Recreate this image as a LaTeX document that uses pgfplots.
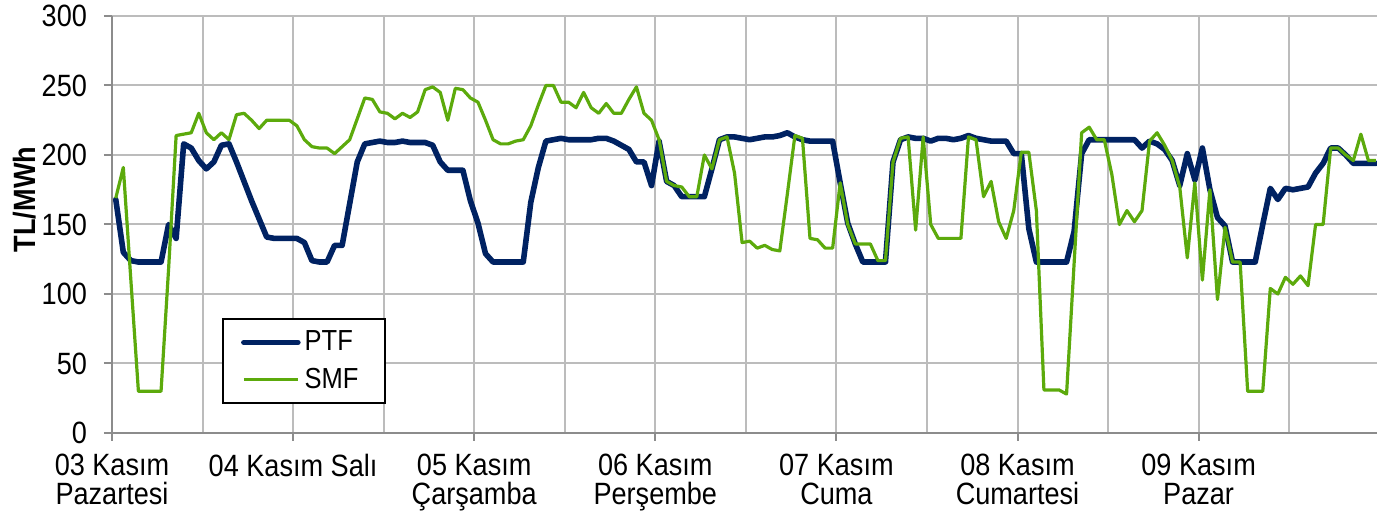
\documentclass[border=0pt]{standalone}
\usepackage{fontspec}
\setmainfont{Liberation Sans}[FakeStretch=0.88]
\usepackage{pgfplots}
\pgfplotsset{compat=1.18}
\usepackage{pgfplotstable}

\definecolor{ptfblue}{RGB}{0,34,98}
\definecolor{smfgreen}{RGB}{92,170,12}
\definecolor{gridgray}{RGB}{188,188,188}
\definecolor{axgray}{RGB}{140,140,140}

% hourly prices, 03-09 Kasim (h = hour index)
\pgfplotstableread{
h ptf smf
0 168 169
1 130 191
2 124 110
3 123 30
4 123 30
5 123 30
6 123 30
7 150 118
8 140 214
9 208 215
10 205 216
11 196 230
12 190 216
13 195 211
14 207 216
15 208 211
16 195 229
17 181 230
18 167 225
19 154 219
20 141 225
21 140 225
22 140 225
23 140 225
24 140 221
25 137 211
26 124 206
27 123 205
28 123 205
29 135 201
30 135 206
31 165 211
32 195 226
33 208 241
34 209 240
35 210 231
36 209 230
37 209 226
38 210 230
39 209 227
40 209 231
41 209 247
42 207 249
43 195 245
44 189 225
45 189 248
46 189 247
47 167 241
48 151 238
49 129 225
50 123 211
51 123 208
52 123 208
53 123 210
54 123 211
55 166 221
56 191 236
57 210 250
58 211 250
59 212 238
60 211 238
61 211 234
62 211 245
63 211 234
64 212 230
65 212 237
66 210 230
67 207 230
68 204 240
69 195 249
70 195 230
71 178 225
72 210 211
73 181 181
74 178 178
75 170 177
76 170 170
77 170 170
78 170 200
79 190 190
80 211 211
81 213 213
82 213 187
83 212 137
84 211 138
85 212 133
86 213 135
87 213 132
88 214 131
89 216 172
90 213 214
91 211 212
92 210 140
93 210 139
94 210 133
95 210 133
96 180 180
97 151 150
98 136 136
99 123 136
100 123 136
101 123 124
102 123 124
103 195 195
104 211 212
105 213 213
106 212 146
107 212 213
108 210 150
109 212 140
110 212 140
111 211 140
112 212 140
113 214 213
114 212 211
115 211 170
116 210 181
117 210 152
118 210 140
119 201 160
120 201 202
121 147 202
122 123 160
123 123 31
124 123 31
125 123 31
126 123 28
127 145 122
128 201 216
129 211 220
130 211 211
131 211 211
132 211 186
133 211 150
134 211 160
135 211 152
136 205 160
137 210 210
138 208 216
139 204 207
140 196 196
141 178 177
142 201 126
143 182 180
144 205 110
145 175 175
146 155 96
147 149 148
148 123 123
149 123 123
150 123 30
151 123 30
152 150 30
153 176 104
154 168 100
155 176 112
156 175 107
157 176 113
158 177 106
159 187 150
160 194 150
161 205 205
162 205 205
163 200 200
164 194 196
165 194 215
166 194 196
167 194 196
}\prices

\begin{document}
\begin{tikzpicture}
\begin{axis}[
    scale only axis,
    width=632.5pt, height=208.5pt,
    xmin=0, xmax=167.64, ymin=0, ymax=300,
    axis x line*=bottom, axis y line*=left,
    axis line style={axgray, line width=1pt},
    xtick={0,24,...,144},
    xticklabels={{03 Kasım\\Pazartesi},{04 Kasım Salı},{05 Kasım\\Çarşamba},{06 Kasım\\Perşembe},{07 Kasım\\Cuma},{08 Kasım\\Cumartesi},{09 Kasım\\Pazar}},
    minor xtick={12,36,...,156},
    ytick={0,50,...,300},
    grid=both,
    major grid style={gridgray, line width=1pt},
    minor grid style={gridgray, line width=1pt},
    tick align=outside, major tick length=4pt, minor tick length=0pt,
    tick style={axgray, line width=1pt},
    /pgf/number format/assume math mode=true,
    ticklabel style={font=\fontsize{15.4}{14.5}\selectfont},
    x tick label style={align=center, anchor=north, yshift=-3pt},
    y tick label style={xshift=-5pt},
    ylabel={\bfseries TL/MWh},
    ylabel style={font=\fontsize{15.4}{16}\selectfont, at={(axis description cs:-0.0687,0.56)}, anchor=center},
    legend style={at={(0.087,0.276)}, anchor=north west, draw=black, line width=1pt,
        font=\fontsize{14.5}{16}\selectfont, inner xsep=9pt, inner ysep=4pt, row sep=3pt},
    legend cell align=left,
    legend image code/.code={\draw[#1] (2pt,0pt) -- (29pt,0pt);},
]
\addplot[ptfblue, line width=2.8pt, line join=round, line cap=round] table[x expr=\thisrow{h}+0.5, y=ptf] {\prices};
\addplot[smfgreen, line width=1.6pt, line join=round] table[x expr=\thisrow{h}+0.5, y=smf] {\prices};
\legend{\makebox[29pt][l]{PTF}, \makebox[29pt][l]{SMF}}
\coordinate (bl) at (rel axis cs:0,0);
\coordinate (tr) at (rel axis cs:1,1);
\end{axis}
\pgfresetboundingbox
\path[use as bounding box] ([xshift=-56pt,yshift=-40pt]bl) rectangle ([yshift=8pt]tr);
\end{tikzpicture}
\end{document}
